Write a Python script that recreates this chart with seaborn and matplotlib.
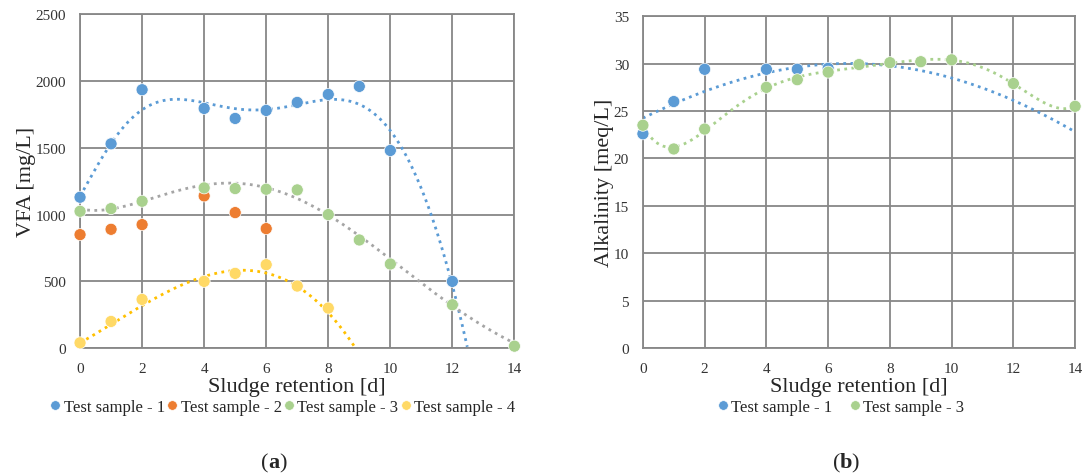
import numpy as np
import pandas as pd
import matplotlib
matplotlib.use("Agg")
import matplotlib.pyplot as plt
import seaborn as sns

# ---- data ----
# (a) VFA [mg/L]
vfa_x1 = [0, 1, 2, 4, 5, 6, 7, 8, 9, 10, 12]
vfa_y1 = [1130, 1530, 1935, 1795, 1720, 1780, 1840, 1900, 1960, 1480, 500]
vfa_x2 = [0, 1, 2, 4, 5, 6]
vfa_y2 = [850, 890, 925, 1140, 1015, 895]
vfa_x3 = [0, 1, 2, 4, 5, 6, 7, 8, 9, 10, 12, 14]
vfa_y3 = [1025, 1045, 1100, 1200, 1195, 1190, 1185, 1000, 810, 630, 325, 15]
vfa_x4 = [0, 1, 2, 4, 5, 6, 7, 8]
vfa_y4 = [40, 200, 365, 500, 560, 625, 465, 300]

# (b) Alkalinity [meq/L]
alk_x1 = [0, 1, 2, 4, 5, 6]
alk_y1 = [22.6, 26.0, 29.4, 29.4, 29.4, 29.5]
alk_x3 = [0, 1, 2, 4, 5, 6, 7, 8, 9, 10, 12, 14]
alk_y3 = [23.5, 21.0, 23.1, 27.5, 28.3, 29.1, 29.9, 30.1, 30.2, 30.4, 27.9, 25.5]

# dotted trend lines
tr_x = [0, 1, 2, 3, 4, 5, 6, 7, 8, 9, 10, 11, 12, 13, 14]
tr_vfa1 = [1140, 1517, 1811, 1853, 1821, 1800, 1798, 1828, 1846, 1816, 1654, 1180, 473, -620, -2400]
tr_vfa3 = [1030, 1065, 1107, 1157, 1199, 1224, 1219, 1144, 1007, 833, 647, 473, 328, 187, 25]
tr_vfa4 = [25, 187, 350, 440, 505, 567, 575, 468, 286, -60, -520, -1100, -1800, -2600, -3500]
tr_alk1 = [24.3, 25.6, 27.2, 28.2, 29.0, 29.6, 29.9, 30.0, 29.8, 29.3, 28.5, 27.4, 26.1, 24.6, 22.8]

xticks = [0, 2, 4, 6, 8, 10, 12, 14]

c_blue = '#5B9BD5'
c_orange = '#ED7D31'
c_green = '#A9D18E'
c_yellow = '#FFD966'
c_gray_trend = '#A5A5A5'
c_yellow_trend = '#FFC000'
grid_c = '#878787'

sns.set_theme(style='white')
plt.rcParams['font.family'] = ['Liberation Serif', 'DejaVu Serif']


def make_df(pairs):
    rows = []
    for name, xs, ys in pairs:
        for x, y in zip(xs, ys):
            rows.append({'x': x, 'y': y, 'sample': name})
    return pd.DataFrame(rows)


def trend(ax, xs, ys, deg, color, x1=14, ymin=None):
    p = np.polyfit(xs, ys, deg)
    xx = np.linspace(0, x1, 500)
    yy = np.polyval(p, xx)
    if ymin is not None:
        m = yy >= ymin
        xx, yy = xx[m], yy[m]
    ax.plot(xx, yy, linestyle=(0, (1, 1.6)), color=color, lw=2.0, zorder=2)


def style_ax(ax, ylim, ystep, ylabel):
    ax.set_xlim(0, 14)
    ax.set_ylim(*ylim)
    ax.set_xticks(xticks)
    ax.set_yticks(np.arange(ylim[0], ylim[1] + ystep / 2, ystep))
    ax.grid(True, color=grid_c, lw=1.3)
    for s in ax.spines.values():
        s.set_color(grid_c)
        s.set_linewidth(1.3)
    ax.tick_params(length=0, labelsize=11, pad=10, colors='#333333')
    ax.set_xlabel('Sludge retention [d]', fontsize=16, labelpad=1.5)
    ax.set_ylabel(ylabel, fontsize=16, labelpad=0)
    ax.set_axisbelow(True)


def legend(ax, ncol, colsp, xc):
    ax.legend(loc='upper center', bbox_to_anchor=(xc, -0.152), ncol=ncol, frameon=False,
              fontsize=12, handlelength=0.7, handletextpad=0.15, columnspacing=colsp,
              markerscale=0.8, borderaxespad=0, borderpad=0)


fig = plt.figure(figsize=(10.86, 4.77), dpi=100)
ax1 = fig.add_axes([0.0737, 0.268, 0.400, 0.700])
ax2 = fig.add_axes([0.592, 0.268, 0.398, 0.696])

# ---- panel (a) ----
df_a = make_df([('Test sample - 1', vfa_x1, vfa_y1),
                ('Test sample - 2', vfa_x2, vfa_y2),
                ('Test sample - 3', vfa_x3, vfa_y3),
                ('Test sample - 4', vfa_x4, vfa_y4)])
trend(ax1, tr_x[:13], tr_vfa1[:13], 7, c_blue, x1=13, ymin=0)
trend(ax1, tr_x, tr_vfa3, 5, c_gray_trend)
trend(ax1, tr_x[:10], tr_vfa4[:10], 3, c_yellow_trend, x1=9.5, ymin=0)
sns.scatterplot(data=df_a, x='x', y='y', hue='sample', ax=ax1,
                palette=[c_blue, c_orange, c_green, c_yellow],
                s=75, edgecolor='white', linewidth=0.5, zorder=3, clip_on=False)
style_ax(ax1, (0, 2500), 500, 'VFA [mg/L]')
legend(ax1, 4, 0.1, 0.466)

# ---- panel (b) ----
df_b = make_df([('Test sample - 1', alk_x1, alk_y1),
                ('Test sample - 3', alk_x3, alk_y3)])
trend(ax2, tr_x, tr_alk1, 4, c_blue)
trend(ax2, alk_x3, alk_y3, 6, c_green)
sns.scatterplot(data=df_b, x='x', y='y', hue='sample', ax=ax2,
                palette=[c_blue, c_green],
                s=75, edgecolor='white', linewidth=0.5, zorder=3, clip_on=False)
style_ax(ax2, (0, 35), 5, 'Alkalinity [meq/L]')
legend(ax2, 2, 1.0, 0.458)

for xc, letter in [(0.247, 'a'), (0.7735, 'b')]:
    fig.text(xc, 0.018, '(', fontsize=16, ha='right')
    fig.text(xc, 0.018, letter, fontsize=16, fontweight='bold', ha='left')
    fig.text(xc + 0.0105, 0.018, ')', fontsize=16, ha='left')

fig.savefig('out.png', dpi=100)
